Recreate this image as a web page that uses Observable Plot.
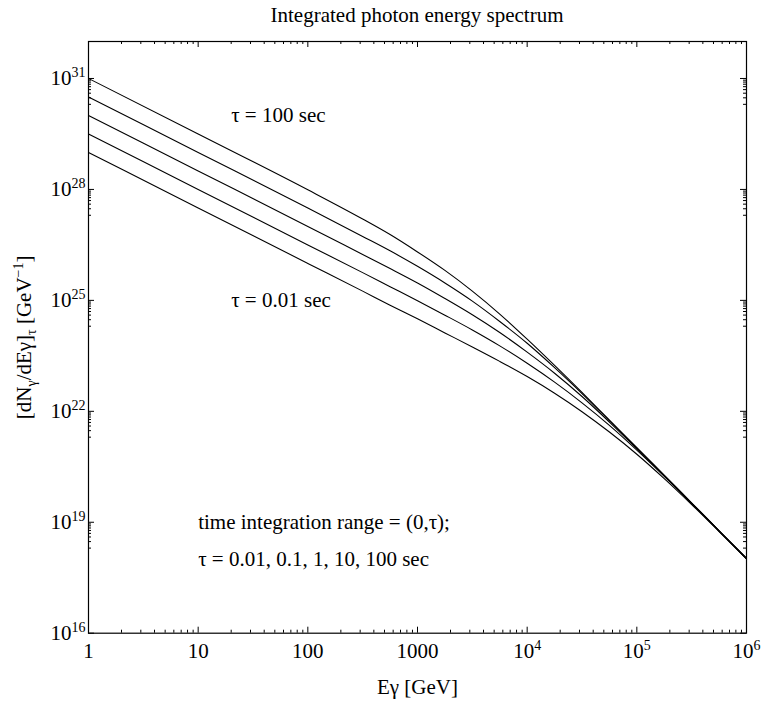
<!DOCTYPE html>
<html>
<head>
<meta charset="utf-8">
<script src="https://cdn.jsdelivr.net/npm/d3@7"></script>
<script src="https://cdn.jsdelivr.net/npm/@observablehq/plot@0.6"></script>
<style>
  html, body { margin: 0; padding: 0; background: #fff; }
  #title { height: 30px; line-height: 30px; margin-left: 88px; width: 658px; text-align: center;
           font-family: "Liberation Serif", "Times New Roman", serif; font-size: 21px; color: #000; }
  #chart svg { display: block; }
</style>
</head>
<body>
<div id="title">Integrated photon energy spectrum</div>
<div id="chart"></div>
<script>
// Photon energy grid (GeV)
const energy = [1, 10, 100, 316.2, 562.3, 1000, 1778, 3162, 5623, 1e4, 17783, 31623, 56234, 1e5, 177828, 316228, 562341, 1e6];
// log10 of [dN/dE]_tau (GeV^-1), one array per tau
const log10N_tau100  = [31.00, 29.50, 27.99, 27.20, 26.78, 26.31, 25.81, 25.25, 24.63, 23.95, 23.24, 22.51, 21.76, 21.02, 20.27, 19.52, 18.77, 18.02];
const log10N_tau10   = [30.50, 29.00, 27.50, 26.73, 26.34, 25.92, 25.47, 24.98, 24.43, 23.84, 23.18, 22.48, 21.75, 21.01, 20.27, 19.52, 18.77, 18.02];
const log10N_tau1    = [30.00, 28.50, 27.00, 26.24, 25.86, 25.47, 25.05, 24.61, 24.13, 23.60, 23.03, 22.40, 21.71, 20.99, 20.26, 19.52, 18.77, 18.02];
const log10N_tau0_1  = [29.50, 28.00, 26.50, 25.75, 25.37, 24.99, 24.60, 24.20, 23.77, 23.30, 22.79, 22.23, 21.62, 20.95, 20.24, 19.51, 18.76, 18.02];
const log10N_tau0_01 = [29.00, 27.50, 26.00, 25.25, 24.87, 24.50, 24.12, 23.74, 23.35, 22.94, 22.49, 21.99, 21.44, 20.84, 20.18, 19.48, 18.75, 18.01];
const tauLabels = ["100", "10", "1", "0.1", "0.01"];
const seriesList = [log10N_tau100, log10N_tau10, log10N_tau1, log10N_tau0_1, log10N_tau0_01];

// Axis ticks and labels
const xMajorTicks = [1, 10, 100, 1000, 1e4, 1e5, 1e6];
const xTickLabels = ["1", "10", "100", "1000", "10^{4}", "10^{5}", "10^{6}"];
const yMajorTicks = [1e16, 1e19, 1e22, 1e25, 1e28, 1e31];
const yTickLabels = ["10^{16}", "10^{19}", "10^{22}", "10^{25}", "10^{28}", "10^{31}"];
const minorMultipliers = [2, 3, 4, 5, 6, 7, 8, 9];
const xMinorTicks = xMajorTicks.slice(0, -1).flatMap(d => minorMultipliers.map(k => k * d));
const yMinorTicks = yMajorTicks.slice(1).flatMap(d => minorMultipliers.map(k => k * d / 10));

// Annotations
const annotations = [
  {E: 20, N: 1e30, text: "τ = 100 sec"},
  {E: 20, N: 1e25, text: "τ = 0.01 sec"},
  {E: 10, N: 1e19, text: "time integration range = (0,τ);"},
  {E: 10, N: 1e18, text: "τ = 0.01, 0.1, 1, 10, 100 sec"}
];

const data = seriesList.flatMap((s, i) => s.map((v, j) => ({tau: tauLabels[i], E: energy[j], N: Math.pow(10, v)})));

const W = 762, H = 675;
const mL = 88, mR = 16, mT = 11, mB = 72.3;
const pw = W - mL - mR, ph = H - mT - mB;
const major = 6, minor = 3;

const svg = Plot.plot({
  width: W, height: H,
  marginLeft: mL, marginRight: mR, marginTop: mT, marginBottom: mB,
  style: {fontFamily: "'Liberation Serif', 'Times New Roman', serif", fontSize: "21px", color: "#000", background: "#fff"},
  x: {type: "log", domain: [1, 1e6], axis: null},
  y: {type: "log", domain: [1e16, 1e32], axis: null},
  marks: [
    Plot.line(data, {x: "E", y: "N", z: "tau", stroke: "#000", strokeWidth: 1.1, curve: "monotone-x"}),
    // left & right ticks (inward)
    Plot.tickY(yMajorTicks, {y: d => d, insetRight: pw - major, stroke: "#000"}),
    Plot.tickY(yMinorTicks, {y: d => d, insetRight: pw - minor, stroke: "#000"}),
    Plot.tickY(yMajorTicks, {y: d => d, insetLeft: pw - major, stroke: "#000"}),
    Plot.tickY(yMinorTicks, {y: d => d, insetLeft: pw - minor, stroke: "#000"}),
    // bottom & top ticks (inward)
    Plot.tickX(xMajorTicks, {x: d => d, insetTop: ph - major, stroke: "#000"}),
    Plot.tickX(xMinorTicks, {x: d => d, insetTop: ph - minor, stroke: "#000"}),
    Plot.tickX(xMajorTicks, {x: d => d, insetBottom: ph - major, stroke: "#000"}),
    Plot.tickX(xMinorTicks, {x: d => d, insetBottom: ph - minor, stroke: "#000"}),
    Plot.frame({stroke: "#000", strokeWidth: 1.2}),
    // tick labels
    Plot.text(yMajorTicks, {y: d => d, frameAnchor: "left", textAnchor: "end", lineAnchor: "middle", dx: -3, text: (d, i) => yTickLabels[i], fontSize: 21, fill: "#000"}),
    Plot.text(xMajorTicks, {x: d => d, frameAnchor: "bottom", textAnchor: "middle", lineAnchor: "middle", dy: 18, text: (d, i) => xTickLabels[i], fontSize: 21, fill: "#000"}),
    // axis titles
    Plot.text(["Eγ [GeV]"], {frameAnchor: "bottom", textAnchor: "middle", lineAnchor: "middle", dy: 54, text: d => d, fontSize: 21, fill: "#000"}),
    Plot.text(["[dN_{γ}/dEγ]_{τ} [GeV^{−1}]"], {frameAnchor: "left", textAnchor: "middle", lineAnchor: "middle", dx: -64, rotate: -90, text: d => d, fontSize: 21, fill: "#000"}),
    // annotations
    Plot.text(annotations, {x: "E", y: "N", text: "text", textAnchor: "start", lineAnchor: "middle", fontSize: 21, fill: "#000"})
  ]
});

// Turn ^{..} and _{..} markup into real superscript / subscript tspans
const NS = "http://www.w3.org/2000/svg";
svg.querySelectorAll("text").forEach(el => {
  const s = el.textContent;
  if (!/[_^]\{/.test(s)) return;
  while (el.firstChild) el.removeChild(el.firstChild);
  const re = /([_^])\{([^}]*)\}/g;
  let last = 0, cur = 0, m;
  const add = (txt, target, small) => {
    if (!txt) return;
    const t = document.createElementNS(NS, "tspan");
    if (target !== cur) { t.setAttribute("dy", target - cur); cur = target; }
    if (small) t.setAttribute("font-size", "14");
    t.textContent = txt;
    el.appendChild(t);
  };
  while ((m = re.exec(s))) {
    add(s.slice(last, m.index), 0, false);
    add(m[2], m[1] === "^" ? -8 : 5, true);
    last = m.index + m[0].length;
  }
  add(s.slice(last), 0, false);
});

document.getElementById("chart").appendChild(svg);
</script>
</body>
</html>
